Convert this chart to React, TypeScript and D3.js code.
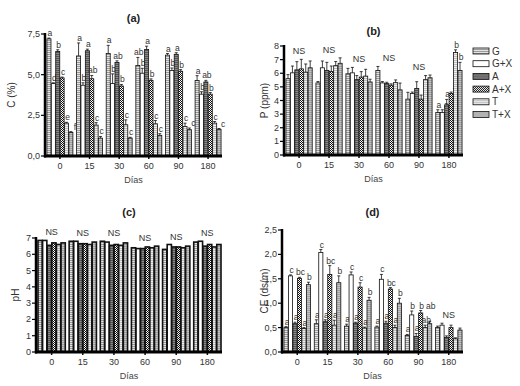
import React from "react";
import { scaleBand, scaleLinear, range } from "d3";

// Días y tratamientos
const days = ["0", "15", "30", "60", "90", "180"];
const treatments = ["G", "G+X", "A", "A+X", "T", "T+X"];

// (a) C (%)
const cValues = [
  [7.2, 4.45, 6.43, 4.8, 2.02, 1.45],
  [6.15, 4.35, 6.47, 4.75, 1.9, 1.1],
  [6.3, 4.45, 5.75, 4.3, 1.92, 1.1],
  [5.56, 5.09, 6.55, 4.64, 1.98, 1.27],
  [6.2, 5.26, 6.25, 5.21, 1.82, 1.62],
  [4.64, 3.8, 4.55, 3.8, 2.02, 1.64],
];
const cErrors = [
  [0.05, 0.05, 0.1, 0.05, 0.05, 0.05],
  [0.8, 0.15, 0.1, 0.2, 0.15, 0.1],
  [0.5, 0.6, 0.1, 0.1, 0.3, 0.05],
  [0.5, 0.3, 0.2, 0.1, 0.2, 0.1],
  [0.1, 0.15, 0.1, 0.1, 0.2, 0.1],
  [0.3, 0.15, 0.1, 0.1, 0.1, 0.05],
];
const cLetters = [
  ["a", "d", "b", "c", "e", "f"],
  ["a", "b", "a", "ab", "c", "c"],
  ["a", "b", "ab", "b", "c", "c"],
  ["ab", "b", "a", "b", "c", "c"],
  ["a", "b", "a", "b", "c", "c"],
  ["a", "b", "ab", "b", "c", "c"],
];

// (b) P (ppm)
const pValues = [
  [5.6, 6.03, 6.25, 6.32, 6.08, 6.4],
  [5.29, 6.4, 6.2, 6.13, 6.56, 6.73],
  [5.96, 6.03, 5.53, 5.72, 5.79, 5.36],
  [6.2, 5.29, 5.24, 5.12, 5.31, 4.78],
  [4.1, 4.52, 4.88, 4.1, 5.53, 5.67],
  [3.12, 3.12, 3.68, 4.52, 7.52, 6.2],
];
const pErrors = [
  [0.3, 0.5, 0.6, 0.7, 0.6, 0.5],
  [0.1, 0.5, 0.6, 0.4, 0.3, 0.4],
  [0.4, 0.4, 0.3, 0.4, 0.5, 0.2],
  [0.3, 0.1, 0.1, 0.1, 0.2, 0.5],
  [0.5, 0.1, 0.5, 0.3, 0.3, 0.2],
  [0.2, 0.2, 0.4, 0.1, 0.2, 0.6],
];
const pLetters = [
  ["", "", "", "", "", ""],
  ["", "", "", "", "", ""],
  ["", "", "", "", "", ""],
  ["", "", "", "", "", ""],
  ["", "", "", "", "", ""],
  ["a", "a", "a", "a", "b", "b"],
];
const pNS = [true, true, true, true, true, false];

// (c) pH
const phValues = [
  [6.85, 6.85, 6.55, 6.7, 6.6, 6.7],
  [6.8, 6.8, 6.65, 6.65, 6.6, 6.75],
  [6.8, 6.75, 6.55, 6.6, 6.55, 6.7],
  [6.4, 6.35, 6.35, 6.45, 6.4, 6.5],
  [6.3, 6.6, 6.45, 6.45, 6.4, 6.5],
  [6.75, 6.8, 6.5, 6.6, 6.45, 6.6],
];
const phNS = [true, true, true, true, true, true];

// (d) CE (ds/m)
const ceValues = [
  [0.5, 1.56, 0.58, 1.51, 0.48, 1.38],
  [0.58, 2.04, 0.62, 1.59, 0.55, 1.42],
  [0.53, 1.58, 0.59, 1.33, 0.49, 1.06],
  [0.51, 1.49, 0.59, 1.29, 0.5, 1.0],
  [0.34, 0.76, 0.32, 0.8, 0.5, 0.58],
  [0.5, 0.55, 0.3, 0.5, 0.27, 0.45],
];
const ceErrors = [
  [0.02, 0.02, 0.03, 0.02, 0.02, 0.05],
  [0.08, 0.06, 0.04, 0.18, 0.1, 0.14],
  [0.04, 0.06, 0.02, 0.09, 0.02, 0.06],
  [0.02, 0.1, 0.04, 0.03, 0.05, 0.1],
  [0.02, 0.08, 0.06, 0.05, 0.05, 0.05],
  [0.03, 0.04, 0.03, 0.05, 0.02, 0.04],
];
const ceLetters = [
  ["a", "c", "a", "bc", "a", "b"],
  ["a", "c", "a", "bc", "a", "b"],
  ["a", "c", "a", "c", "a", "b"],
  ["a", "c", "a", "bc", "a", "b"],
  ["a", "b", "a", "b", "ab", "ab"],
  ["", "", "", "", "", ""],
];
const ceNS = [false, false, false, false, false, true];

const fills = ["url(#pG)", "#ffffff", "url(#pA)", "url(#pAX)", "url(#pT)", "url(#pTX)"];
const FONT = "'Liberation Sans', Arial, sans-serif";

type PanelProps = {
  title: string;
  yLabel: string;
  values: number[][];
  errors?: number[][];
  letters?: string[][];
  ns?: boolean[];
  yMax: number;
  yTicks: number[];
  fmt: (v: number) => string;
  x0: number;
  x1: number;
  y0: number;
  y1: number;
  titleY: number;
  yLabelX: number;
  barStroke?: number;
};

type Lbl = { x: number; y: number; w: number };
const hits = (a: Lbl, placed: Lbl[]) =>
  placed.some((b) => Math.abs(a.x - b.x) < (a.w + b.w) / 2 + 0.5 && Math.abs(a.y - b.y) < 9.5);

const Panel: React.FC<PanelProps> = (p) => {
  const x = scaleBand<string>().domain(days).range([p.x0 + 1, p.x1]).paddingInner(0.1).paddingOuter(0.02);
  const xi = scaleBand<string>().domain(treatments).range([0, x.bandwidth()]).padding(0.08);
  const y = scaleLinear().domain([0, p.yMax]).range([p.y0, p.y1]);
  const cx = (p.x0 + p.x1) / 2;
  const sw = p.barStroke ?? 0.8;

  return (
    <g fontFamily={FONT}>
      <text x={cx} y={p.titleY} textAnchor="middle" fontSize={11} fontWeight="bold" fill="#222">
        {p.title}
      </text>
      {days.map((d, gi) => {
        const gx = x(d)!;
        let groupTop = p.y0;
        // evita que letras vecinas se monten
        const placed: Lbl[] = [];
        return (
          <g key={d}>
            {treatments.map((t, ti) => {
              const v = p.values[gi][ti];
              const e = p.errors ? p.errors[gi][ti] : 0;
              const bx = gx + xi(t)!;
              const bw = xi.bandwidth();
              const top = y(v);
              const et = y(v + e);
              groupTop = Math.min(groupTop, et);
              const letter = p.letters ? p.letters[gi][ti] : "";
              let lbl: Lbl = { x: bx + bw / 2 + 1, y: et - 2, w: letter.length * 5 };
              if (letter) {
                const tries = [0, -5, -10].flatMap((dy) => [0, 3, 6].map((dx) => ({ ...lbl, x: lbl.x + dx, y: lbl.y + dy })));
                lbl = tries.find((c) => !hits(c, placed)) ?? lbl;
                placed.push(lbl);
              }
              return (
                <g key={t}>
                  <rect x={bx} y={top} width={bw} height={p.y0 - top} fill={fills[ti]} stroke="#111" strokeWidth={sw} />
                  {e > 0 && (
                    <g stroke="#111" strokeWidth={0.8}>
                      <line x1={bx + bw / 2} x2={bx + bw / 2} y1={top} y2={et} />
                      <line x1={bx + bw / 2 - 1.5} x2={bx + bw / 2 + 1.5} y1={et} y2={et} />
                    </g>
                  )}
                  {letter && (
                    <text x={lbl.x} y={lbl.y} textAnchor="middle" fontSize={8.5} fill="#333">
                      {letter}
                    </text>
                  )}
                </g>
              );
            })}
            {p.ns && p.ns[gi] && (
              <text x={gx + x.bandwidth() / 2} y={groupTop - 5} textAnchor="middle" fontSize={9} fill="#333">
                NS
              </text>
            )}
            <line x1={gx + x.bandwidth() / 2} x2={gx + x.bandwidth() / 2} y1={p.y0} y2={p.y0 + 3} stroke="#111" strokeWidth={1.5} />
            <text x={gx + x.bandwidth() / 2} y={p.y0 + 13} textAnchor="middle" fontSize={9} fill="#333">
              {d}
            </text>
          </g>
        );
      })}
      {/* ejes */}
      <line x1={p.x0} x2={p.x0} y1={p.y1 - 1} y2={p.y0 + 1.5} stroke="#000" strokeWidth={2.5} />
      <line x1={p.x0 - 1} x2={p.x1} y1={p.y0} y2={p.y0} stroke="#000" strokeWidth={3} />
      {p.yTicks.map((v) => (
        <g key={v}>
          <line x1={p.x0 - 4} x2={p.x0} y1={y(v)} y2={y(v)} stroke="#000" strokeWidth={1.2} />
          <text x={p.x0 - 5} y={y(v) + 3} textAnchor="end" fontSize={9} fill="#333">
            {p.fmt(v)}
          </text>
        </g>
      ))}
      <text x={cx} y={p.y0 + 27} textAnchor="middle" fontSize={9} fill="#444">
        Días
      </text>
      <text
        transform={`translate(${p.yLabelX},${(p.y0 + p.y1) / 2}) rotate(-90)`}
        textAnchor="middle"
        fontSize={10}
        fill="#333"
      >
        {p.yLabel}
      </text>
    </g>
  );
};

const comma1 = (v: number) => v.toFixed(1).replace(".", ",");

export default function App() {
  return (
    <svg width={520} height={386} style={{ position: "absolute", left: 0, top: 0, background: "#fff" }}>
      <defs>
        <pattern id="pG" width="3" height="2" patternUnits="userSpaceOnUse">
          <rect width="3" height="2" fill="#e4e4e4" />
          <rect width="3" height="1" fill="#9a9a9a" />
        </pattern>
        <pattern id="pA" width="3" height="2" patternUnits="userSpaceOnUse">
          <rect width="3" height="2" fill="#8a8a8a" />
          <rect width="3" height="1" fill="#555" />
        </pattern>
        <pattern id="pAX" width="2" height="2" patternUnits="userSpaceOnUse">
          <rect width="2" height="2" fill="#fff" />
          <rect width="1" height="1" fill="#111" />
          <rect x="1" y="1" width="1" height="1" fill="#111" />
        </pattern>
        <pattern id="pT" width="3" height="2" patternUnits="userSpaceOnUse">
          <rect width="3" height="2" fill="#efefef" />
          <rect width="3" height="1" fill="#bdbdbd" />
        </pattern>
        <pattern id="pTX" width="3" height="2" patternUnits="userSpaceOnUse">
          <rect width="3" height="2" fill="#c4c4c4" />
          <rect width="3" height="1" fill="#a0a0a0" />
        </pattern>
      </defs>

      <Panel
        title="(a)" yLabel="C (%)" values={cValues} errors={cErrors} letters={cLetters}
        yMax={7.5} yTicks={range(0, 7.6, 2.5)} fmt={comma1}
        x0={45} x1={222} y0={156} y1={34} titleY={22} yLabelX={15}
      />
      <Panel
        title="(b)" yLabel="P (ppm)" values={pValues} errors={pErrors} letters={pLetters} ns={pNS}
        yMax={8} yTicks={range(0, 9, 1)} fmt={(v) => String(v)}
        x0={284} x1={463} y0={155} y1={46} titleY={35} yLabelX={268}
      />
      <Panel
        title="(c)" yLabel="pH" values={phValues} ns={phNS}
        yMax={7} yTicks={range(0, 8, 1)} fmt={(v) => String(v)}
        x0={36} x1={222} y0={352} y1={238} titleY={216} yLabelX={19} barStroke={1.6}
      />
      <Panel
        title="(d)" yLabel="CE  (ds/m)" values={ceValues} errors={ceErrors} letters={ceLetters} ns={ceNS}
        yMax={2.5} yTicks={range(0, 2.6, 0.5)} fmt={comma1}
        x0={282} x1={463} y0={352} y1={230} titleY={216} yLabelX={268}
      />

      {/* Leyenda */}
      <g fontFamily={FONT}>
        {treatments.map((t, i) => (
          <g key={t} transform={`translate(473,${51 + i * 12.7})`}>
            <rect x={0} y={-3} width={16} height={6} fill={fills[i]} stroke="#111" strokeWidth={0.8} />
            <text x={19} y={3.5} fontSize={10} fill="#333">
              {t}
            </text>
          </g>
        ))}
      </g>
    </svg>
  );
}
